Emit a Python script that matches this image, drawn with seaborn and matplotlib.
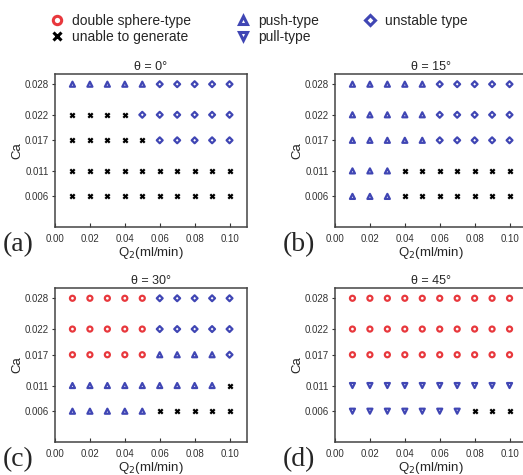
import numpy as np
import pandas as pd
import seaborn as sns
import matplotlib.pyplot as plt
from matplotlib.lines import Line2D

# ------------------------------------------------------------
# Data
# codes: O = double sphere-type, X = unable to generate,
#        U = push-type, D = pull-type, S = unstable type
# ------------------------------------------------------------
q2 = [0.01, 0.02, 0.03, 0.04, 0.05, 0.06, 0.07, 0.08, 0.09, 0.10]
ca = [0.006, 0.011, 0.017, 0.022, 0.028]

# one string per Ca row (same order as ca), one char per Q2 value
theta_0 = ["XXXXXXXXXX", "XXXXXXXXXX", "XXXXXSSSSS", "XXXXSSSSSS", "UUUUUSSSSS"]
theta_15 = ["UUUXXXXXXX", "UUUXXXXXXX", "UUUUUSSSSS", "UUUUUSSSSS", "UUUUUSSSSS"]
theta_30 = ["UUUUUXXXXX", "UUUUUUUUUX", "OOOOOUUUUS", "OOOOOSSSSS", "OOOOOSSSSS"]
theta_45 = ["DDDDDDDXXX", "DDDDDDDDDD", "OOOOOOOOOO", "OOOOOOOOOO", "OOOOOOOOOO"]

panels = [theta_0, theta_15, theta_30, theta_45]
titles = ["θ = 0°", "θ = 15°", "θ = 30°", "θ = 45°"]
letters = ["(a)", "(b)", "(c)", "(d)"]

type_names = {
    "O": "double sphere-type",
    "X": "unable to generate",
    "U": "push-type",
    "D": "pull-type",
    "S": "unstable type",
}

RED = "#e8383d"
BLUE = "#4046b4"
styles = {
    "O": dict(marker="o", color=RED, open=True),
    "X": dict(marker="x", color="black", open=False),
    "U": dict(marker="^", color=BLUE, open=True),
    "D": dict(marker="v", color=BLUE, open=True),
    "S": dict(marker="D", color=BLUE, open=True),
}

# ------------------------------------------------------------
# Long table
rows = []
for p, grid in enumerate(panels):
    for j, row in enumerate(grid):
        for i, code in enumerate(row):
            rows.append([p, q2[i], ca[j], code])
df = pd.DataFrame(rows, columns=["panel", "Q2", "Ca", "code"])

# ------------------------------------------------------------
# Visualization
# ------------------------------------------------------------
sns.set_style("ticks")
plt.rcParams["font.family"] = ["Liberation Sans", "DejaVu Sans"]

W, H = 523, 475
fig = plt.figure(figsize=(W / 100, H / 100), dpi=100)

# axes boxes in pixels: left, top, width, height
boxes = [(55, 74, 192, 153), (335, 74, 192, 153),
         (55, 288, 192, 154), (335, 288, 192, 154)]

for p, (l, t, w, h) in enumerate(boxes):
    ax = fig.add_axes([l / W, 1 - (t + h) / H, w / W, h / H])
    sub = df[df.panel == p]
    for code, st in styles.items():
        pts = sub[sub.code == code]
        if pts.empty:
            continue
        if st["open"]:
            sns.scatterplot(data=pts, x="Q2", y="Ca", marker=st["marker"],
                            color=st["color"], facecolor="none",
                            edgecolor=st["color"],
                            s=9 if st["marker"] == "D" else 13,
                            linewidth=1.6, ax=ax)
        else:
            sns.scatterplot(data=pts, x="Q2", y="Ca", marker="x",
                            color=st["color"], s=10, linewidth=1.6, ax=ax)

    ax.set_xlim(0, 0.11)
    ax.set_ylim(0, 0.030)
    ax.set_xticks([0.00, 0.02, 0.04, 0.06, 0.08, 0.10])
    ax.set_xticklabels(["0.00", "0.02", "0.04", "0.06", "0.08", "0.10"])
    ax.set_yticks(ca)
    ax.set_yticklabels(["0.006", "0.011", "0.017", "0.022", "0.028"])
    ax.tick_params(axis="x", direction="in", length=3, labelsize=7,
                   colors="#333333", pad=5)
    ax.tick_params(axis="y", direction="out", length=2.5, labelsize=7,
                   colors="#333333", pad=2)
    for s in ax.spines.values():
        s.set_visible(True)
        s.set_color("#444444")
        s.set_linewidth(1.1)
    ax.set_title(titles[p], fontsize=9, pad=3)
    ax.set_xlabel("Q$_2$(ml/min)", fontsize=9.5, labelpad=1)
    ax.set_ylabel("Ca", fontsize=9.5, labelpad=1)

    fig.text((l - 52) / W, 1 - (t + h + 18) / H, letters[p],
             family=["Liberation Serif", "DejaVu Serif"], fontsize=20,
             ha="left", va="center")

# ------------------------------------------------------------
# Legend
handles = []
for code in ["O", "X", "U", "D", "S"]:
    st = styles[code]
    if st["open"]:
        handles.append(Line2D([], [], ls="none", marker=st["marker"],
                              mfc="none", mec=st["color"], mew=2.2,
                              ms=5 if st["marker"] == "D" else 6,
                              label=type_names[code]))
    else:
        handles.append(Line2D([], [], ls="none", marker="x", color="black",
                              mew=2.2, ms=6, label=type_names[code]))

fig.legend(handles=handles, ncol=3, loc="upper left",
           bbox_to_anchor=(50 / W, 1 - 14 / H), frameon=False,
           fontsize=10, handlelength=1.0, handletextpad=0.6,
           columnspacing=3.2, labelspacing=0.15, borderpad=0,
           borderaxespad=0)

plt.savefig("out.png", dpi=100)
